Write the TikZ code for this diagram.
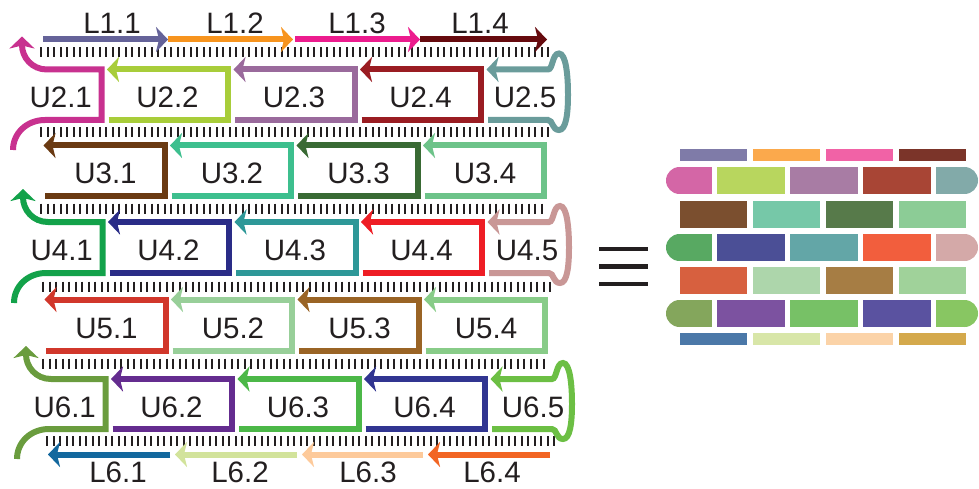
\documentclass[tikz,border=0pt]{standalone}
\usepackage{fontspec}
\setmainfont{Liberation Sans}
\usetikzlibrary{arrows.meta}
\definecolor{txt}{HTML}{231F20}
\definecolor{la1}{HTML}{656399}
\definecolor{la2}{HTML}{F7941E}
\definecolor{la3}{HTML}{EC1C8E}
\definecolor{la4}{HTML}{660A0E}
\definecolor{lb1}{HTML}{13689E}
\definecolor{lb2}{HTML}{D2E39B}
\definecolor{lb3}{HTML}{FDCA9B}
\definecolor{lb4}{HTML}{F26523}
\definecolor{u2a}{HTML}{C8318F}
\definecolor{u2b}{HTML}{A8CD3A}
\definecolor{u2c}{HTML}{9A6A9C}
\definecolor{u2d}{HTML}{9A1C22}
\definecolor{u2e}{HTML}{6A9C9B}
\definecolor{u3a}{HTML}{6A3A12}
\definecolor{u3b}{HTML}{3DBF8E}
\definecolor{u3c}{HTML}{396A34}
\definecolor{u3d}{HTML}{6DC389}
\definecolor{u4a}{HTML}{13A24A}
\definecolor{u4b}{HTML}{2A2C87}
\definecolor{u4c}{HTML}{2E9898}
\definecolor{u4d}{HTML}{EE1D24}
\definecolor{u4e}{HTML}{C99796}
\definecolor{u5a}{HTML}{D1372B}
\definecolor{u5b}{HTML}{98CF99}
\definecolor{u5c}{HTML}{9A6425}
\definecolor{u5d}{HTML}{88CC88}
\definecolor{u6a}{HTML}{6A9C3E}
\definecolor{u6b}{HTML}{642C8F}
\definecolor{u6c}{HTML}{4CB848}
\definecolor{u6d}{HTML}{313591}
\definecolor{u6e}{HTML}{6CBF44}
\definecolor{ba1}{HTML}{7F7BA8}
\definecolor{ba2}{HTML}{FBA94C}
\definecolor{ba3}{HTML}{F162A6}
\definecolor{ba4}{HTML}{7B3429}
\definecolor{bb1}{HTML}{D466A6}
\definecolor{bb2}{HTML}{B8D65E}
\definecolor{bb3}{HTML}{A87CA4}
\definecolor{bb4}{HTML}{A84535}
\definecolor{bb5}{HTML}{82AAA9}
\definecolor{bc1}{HTML}{7B4F2F}
\definecolor{bc2}{HTML}{76C8A8}
\definecolor{bc3}{HTML}{577A4A}
\definecolor{bc4}{HTML}{8CCC96}
\definecolor{bd1}{HTML}{58A962}
\definecolor{bd2}{HTML}{4B4F96}
\definecolor{bd3}{HTML}{63A6A7}
\definecolor{bd4}{HTML}{F25E3D}
\definecolor{bd5}{HTML}{D4A9A8}
\definecolor{be1}{HTML}{D7603F}
\definecolor{be2}{HTML}{ADD6AB}
\definecolor{be3}{HTML}{A67D44}
\definecolor{be4}{HTML}{A0D29A}
\definecolor{bf1}{HTML}{84A65C}
\definecolor{bf2}{HTML}{7C52A0}
\definecolor{bf3}{HTML}{77C166}
\definecolor{bf4}{HTML}{5A52A0}
\definecolor{bf5}{HTML}{88C662}
\definecolor{bg1}{HTML}{4B78A8}
\definecolor{bg2}{HTML}{D8E6A8}
\definecolor{bg3}{HTML}{FBD3A8}
\definecolor{bg4}{HTML}{D4A94C}
\tikzset{
  strand/.style={line width=6pt, line join=miter, line cap=butt, -{Stealth[length=12pt,width=25pt,inset=3pt]}},
  lab/.style={font=\fontsize{29.5}{32}\selectfont, text=txt, inner sep=0pt, anchor=base},
  tk/.style={line width=2pt, draw=txt},
}
\newcommand\evenrow[9]{%
 \pgfmathsetmacro\rT{#1}%
 \pgfmathsetmacro\rB{#2}%
 \pgfmathsetmacro\rM{(#1+#2)/2}%
 \pgfmathsetmacro\rY{(#1+#2)/2+13}%
 \pgfmathsetmacro\wA{101.5+#3}%
 \pgfmathsetmacro\wB{228+#3}%
 \pgfmathsetmacro\wC{354.5+#3}%
 \pgfmathsetmacro\wD{481+#3}%
 \pgfmathsetmacro\xL{13+#3}%
 \pgfmathsetmacro\xR{548+#3}%
 \draw[strand,draw=#4] (\xL,\rB+30) .. controls (\xL,\rB+13) and (\xL+14,\rB) .. (\xL+32,\rB) -- (\wA,\rB) -- (\wA,\rT) -- (\xL+34,\rT) .. controls (\xL+19,\rT) and (\xL+9,\rT-12) .. (\xL+9,\rT-33);
 \draw[strand,draw=#5] (\wA+7,\rB) -- (\wB,\rB) -- (\wB,\rT) -- (\wA+5.5,\rT);
 \draw[strand,draw=#6] (\wB+7,\rB) -- (\wC,\rB) -- (\wC,\rT) -- (\wB+5.5,\rT);
 \draw[strand,draw=#7] (\wC+7,\rB) -- (\wD,\rB) -- (\wD,\rT) -- (\wC+5.5,\rT);
 \draw[strand,draw=#8] (\wD+7,\rB) -- (\xR,\rB) .. controls (\xR+5,\rB) and (\xR+4,\rB+10) .. (\xR+11,\rB+10) .. controls (\xR+18,\rB+10) and (\xR+20,\rB-6) .. (\xR+20,\rM) .. controls (\xR+20,\rT+6) and (\xR+18,\rT-16) .. (\xR+11,\rT-16) .. controls (\xR+4,\rT-16) and (\xR+5,\rT) .. (\xR,\rT) -- (\wD+5.5,\rT);
 \node[lab] (u#9a) at ({(\xL+9+\wA)/2-1},\rY) {U#9.1};
 \node[lab] (u#9b) at ({(\wA+5.5+\wB)/2},\rY) {U#9.2};
 \node[lab] (u#9c) at ({(\wB+5.5+\wC)/2},\rY) {U#9.3};
 \node[lab] (u#9d) at ({(\wC+5.5+\wD)/2},\rY) {U#9.4};
 \node[lab] (u#9e) at ({525+2*#3},\rY) {U#9.5};
}
\newcommand\oddrow[8]{%
 \pgfmathsetmacro\rT{#1}%
 \pgfmathsetmacro\rB{#2}%
 \pgfmathsetmacro\rY{(#1+#2)/2+13}%
 \pgfmathsetmacro\vZ{38+#3}%
 \pgfmathsetmacro\vA{164.5+#3}%
 \pgfmathsetmacro\vB{291+#3}%
 \pgfmathsetmacro\vC{417.5+#3}%
 \pgfmathsetmacro\vD{544+#3}%
 \draw[strand,draw=#4] (\vZ+7,\rB) -- (\vA,\rB) -- (\vA,\rT) -- (\vZ+5.5,\rT);
 \draw[strand,draw=#5] (\vA+7,\rB) -- (\vB,\rB) -- (\vB,\rT) -- (\vA+5.5,\rT);
 \draw[strand,draw=#6] (\vB+7,\rB) -- (\vC,\rB) -- (\vC,\rT) -- (\vB+5.5,\rT);
 \draw[strand,draw=#7] (\vC+7,\rB) -- (\vD,\rB) -- (\vD,\rT) -- (\vC+5.5,\rT);
 \node[lab] (u#8a) at ({(\vZ+5.5+\vA)/2+1.5},\rY) {U#8.1};
 \node[lab] (u#8b) at ({(\vA+5.5+\vB)/2+1.5},\rY) {U#8.2};
 \node[lab] (u#8c) at ({(\vB+5.5+\vC)/2+1.5},\rY) {U#8.3};
 \node[lab] (u#8d) at ({(\vC+5.5+\vD)/2+1.5},\rY) {U#8.4};
}
\newcommand\brickfour[6]{%
 \fill[#3] (680,#1) rectangle ++(67,#2);
 \fill[#4] (753,#1) rectangle ++(67,#2);
 \fill[#5] (826,#1) rectangle ++(67,#2);
 \fill[#6] (899,#1) rectangle ++(67,#2);
}
\newcommand\brickfive[6]{%
 \fill[#2] (679.5,#1) rectangle (712,#1+27);
 \fill[#2] (679.5,#1+13.5) circle[radius=13.5];
 \fill[#3] (717,#1) rectangle ++(68,27);
 \fill[#4] (790,#1) rectangle ++(68,27);
 \fill[#5] (863,#1) rectangle ++(68,27);
 \fill[#6] (936,#1) rectangle (964.5,#1+27);
 \fill[#6] (964.5,#1+13.5) circle[radius=13.5];
}
\begin{document}
\begin{tikzpicture}[x=1pt,y=-1pt]
\useasboundingbox (0,0) rectangle (979,489);
% tick rows
\foreach \yy/\xs/\nn in {52.5/41/78, 132.5/41/78, 208.5/41/77, 286.5/43/78, 363.5/43/77, 441/47/78}{
  \foreach \i in {0,...,\nn}{\draw[tk] ({\xs+6.5*\i},\yy-5) -- ({\xs+6.5*\i},\yy+5);}
}
% top L strands
\draw[strand,draw=la1] (43,39.5) -- (168,39.5);
\draw[strand,draw=la2] (168,39.5) -- (293,39.5);
\draw[strand,draw=la3] (295,39.5) -- (420,39.5);
\draw[strand,draw=la4] (420,39.5) -- (547,39.5);
\node[lab] (l11) at (112,33.3) {L1.1};
\node[lab] (l12) at (235,33.3) {L1.2};
\node[lab] (l13) at (357,33.3) {L1.3};
\node[lab] (l14) at (480,33.3) {L1.4};
% U rows
\evenrow{69.5}{120}{0}{u2a}{u2b}{u2c}{u2d}{u2e}{2}
\oddrow{145.5}{196}{0}{u3a}{u3b}{u3c}{u3d}{3}
\evenrow{222}{273}{1}{u4a}{u4b}{u4c}{u4d}{u4e}{4}
\oddrow{299.5}{350.5}{1}{u5a}{u5b}{u5c}{u5d}{5}
\evenrow{379}{429}{4}{u6a}{u6b}{u6c}{u6d}{u6e}{6}
% bottom L strands
\draw[strand,draw=lb1] (170,454.5) -- (48,454.5);
\draw[strand,draw=lb2] (297,454.5) -- (175,454.5);
\draw[strand,draw=lb3] (423,454.5) -- (302,454.5);
\draw[strand,draw=lb4] (550,454.5) -- (428,454.5);
\node[lab] (l61) at (118,482) {L6.1};
\node[lab] (l62) at (240,482) {L6.2};
\node[lab] (l63) at (368,482) {L6.3};
\node[lab] (l64) at (492,482) {L6.4};
% equals sign
\fill[txt] (599,246.8) rectangle (648,251.3);
\fill[txt] (599,264.3) rectangle (648,268.8);
\fill[txt] (599,281.8) rectangle (648,286.3);
% brick wall
\brickfour{149}{12}{ba1}{ba2}{ba3}{ba4}
\brickfive{167}{bb1}{bb2}{bb3}{bb4}{bb5}
\brickfour{201}{27}{bc1}{bc2}{bc3}{bc4}
\brickfive{234}{bd1}{bd2}{bd3}{bd4}{bd5}
\brickfour{267}{27}{be1}{be2}{be3}{be4}
\brickfive{300}{bf1}{bf2}{bf3}{bf4}{bf5}
\brickfour{333}{12}{bg1}{bg2}{bg3}{bg4}
\end{tikzpicture}
\end{document}
